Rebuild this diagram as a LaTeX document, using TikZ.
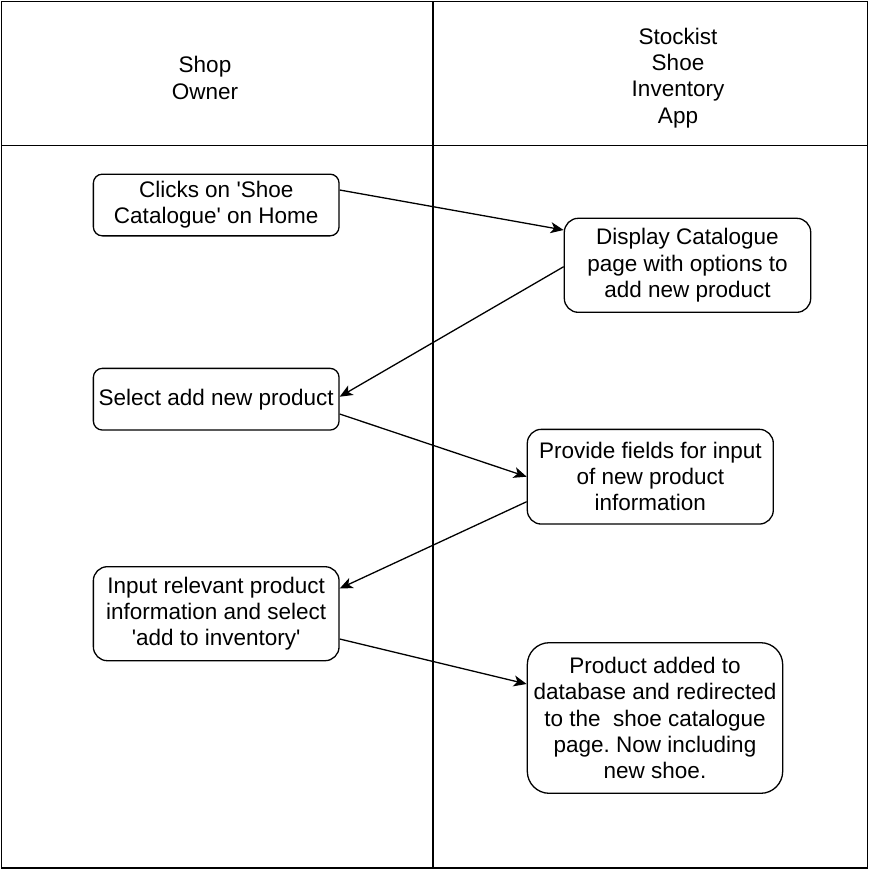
\documentclass[tikz,border=0pt]{standalone}
\usepackage{fontspec}
\setmainfont{Liberation Sans}
\usetikzlibrary{arrows.meta}
\newcommand{\sq}{\textquotesingle}
\begin{document}
\frenchspacing
\begin{tikzpicture}[x=1pt,y=-1pt,
  lane/.style={draw=black,line width=1.4pt},
  hdr/.style={inner sep=0pt,align=center,font=\fontsize{22.5}{26.2}\selectfont},
  stepbox/.style={draw=black,line width=1.3pt,rounded corners=#1,inner sep=0pt,align=center,
    font=\fontsize{22.5}{26.2}\selectfont},
  flow/.style={draw=black,line width=1.3pt,-{Stealth[length=13pt,width=11pt,inset=3.5pt]}}
]
\useasboundingbox (0,0) rectangle (872,870);
% frame
\draw[lane] (1.5,1.5) rectangle (867.5,868);
\draw[lane] (1.5,145.5) -- (867.5,145.5);
\draw[lane] (433,1.5) -- (433,868);
% headers
\node[hdr] (h1) at (205,78) {Shop\\Owner};
\node[hdr] (h2) at (678,78) {Stockist\\Shoe\\Inventory\\App};
% boxes
\node[stepbox=9pt,minimum width=245.7pt,minimum height=61.7pt] (b1) at (216.2,205) {Clicks on \sq Shoe\\Catalogue\sq{} on Home};
\node[stepbox=14pt,minimum width=246.4pt,minimum height=94pt] (b2) at (687.5,265.3) {Display Catalogue\\page with options to\\add new product};
\node[stepbox=9pt,minimum width=245.7pt,minimum height=61.7pt] (b3) at (216.2,399.2) {Select add new product};
\node[stepbox=14pt,minimum width=246pt,minimum height=94.7pt] (b4) at (650.3,476.7) {Provide fields for input\\of new product\\information};
\node[stepbox=14pt,minimum width=245.7pt,minimum height=94pt] (b5) at (216.2,613.7) {Input relevant product\\information and select\\\sq add to inventory\sq};
\node[stepbox=22pt,minimum width=255.4pt,minimum height=150.6pt] (b6) at (655,718) {Product added to\\database and redirected\\to the\ \ shoe catalogue\\page. Now including\\new shoe.};
% connectors
\draw[flow] ([yshift=15pt]b1.east) -- ([yshift=35.3pt]b2.west);
\draw[flow] ([yshift=-1.4pt]b2.west) -- ([yshift=2.5pt]b3.east);
\draw[flow] ([yshift=-14.8pt]b3.east) -- (b4.west);
\draw[flow] ([yshift=-25pt]b4.west) -- ([yshift=25.2pt]b5.east);
\draw[flow] ([yshift=-25.3pt]b5.east) -- ([yshift=34pt]b6.west);
\end{tikzpicture}
\end{document}
